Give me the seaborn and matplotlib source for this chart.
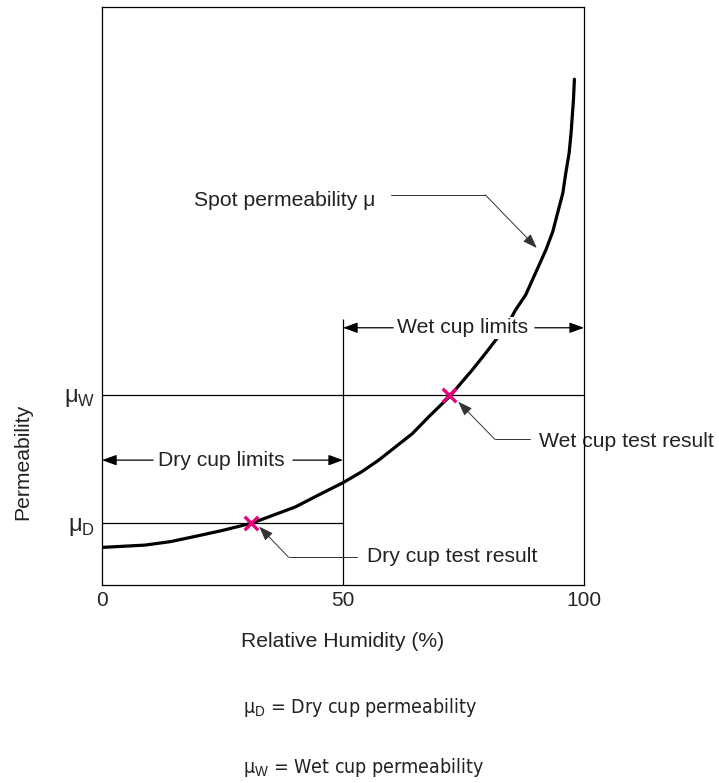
import numpy as np
import pandas as pd
import matplotlib
matplotlib.use("Agg")
import matplotlib.pyplot as plt
import seaborn as sns

# spot permeability curve (y is in arbitrary units, 0-100 axis)
rh = [0, 8.9, 14.2, 19.3, 24.8, 31.1, 40.1, 45.0, 50, 53.9, 57.4, 60.9, 64.4, 67.9, 72.1,
      76.8, 79.3, 81.7, 84.1, 85.8, 87.9, 89.3, 90.7, 92.1, 93.5, 94.5, 95.6, 96.2, 96.9,
      97.3, 97.8, 98.0]
perm = [6.5, 6.9, 7.5, 8.4, 9.4, 10.7, 13.5, 15.6, 17.7, 19.6, 21.6, 23.9, 26.2, 29.2, 32.6,
        37.2, 39.8, 42.4, 45.0, 47.6, 50.2, 52.8, 55.4, 58.0, 61.1, 64.3, 67.8, 71.2, 74.7,
        78.1, 83.9, 87.5]

# test results (RH, permeability)
test_rh = [31, 72]
test_perm = [10.7, 32.9]
mu_dry = 10.7
mu_wet = 32.9
split_rh = 50
split_top = 46.0

xticks = [0, 50, 100]
ytick_labels = ["μ$_\\mathrm{D}$", "μ$_\\mathrm{W}$"]

sns.set_style("white")
plt.rcParams["font.family"] = ["Liberation Sans", "DejaVu Sans"]
plt.rcParams["mathtext.fontset"] = "custom"
plt.rcParams["mathtext.rm"] = "Liberation Sans"

fig = plt.figure(figsize=(7.19, 7.83), dpi=100)
ax = fig.add_axes([0.1419, 0.2529, 0.6704, 0.7382])

df = pd.DataFrame({"RH": rh, "perm": perm})
sns.lineplot(data=df, x="RH", y="perm", color="black", lw=2.3, ax=ax, zorder=3, sort=False)
ax.lines[-1].set_solid_joinstyle("round")

# guide lines
ax.hlines(mu_wet, 0, 100, color="black", lw=0.9, zorder=2)
ax.hlines(mu_dry, 0, split_rh, color="black", lw=0.9, zorder=2)
ax.vlines(split_rh, 0, split_top, color="black", lw=0.9, zorder=2)

tests = pd.DataFrame({"RH": test_rh, "perm": test_perm})
sns.scatterplot(data=tests, x="RH", y="perm", marker="x", s=95, color="#e6007e",
                linewidth=2.4, ax=ax, zorder=5)

ax.set_xlim(0, 100)
ax.set_ylim(0, 100)
ax.set_xticks(xticks)
ax.set_yticks([mu_dry, mu_wet], labels=ytick_labels)
ax.tick_params(axis="x", length=0, pad=4, labelsize=15)
ax.tick_params(axis="y", length=0, pad=5, labelsize=17)
for s in ax.spines.values():
    s.set_color("black")
    s.set_linewidth(0.9)

ax.set_xlabel("Relative Humidity (%)", fontsize=15.2, color="#222")
ax.xaxis.set_label_coords(0.5, -0.081)
ax.set_ylabel("Permeability", fontsize=15.2, color="#222")
ax.yaxis.set_label_coords(-0.145, 0.213)

fs = 15.2
head = "-|>,head_length=0.55,head_width=0.2"
lim_arrow = dict(arrowstyle=head, color="black", lw=0.9, mutation_scale=16, shrinkA=0, shrinkB=0)
conn_arrow = dict(arrowstyle=head, color="#333", lw=0.7, mutation_scale=16, shrinkA=0, shrinkB=0)

# limits
ax.text(74.7, 44.5, "Wet cup limits", ha="center", va="center", fontsize=fs, color="#222",
        zorder=6, bbox=dict(facecolor="white", edgecolor="none", pad=1))
ax.annotate("", xy=(50, 44.5), xytext=(60.4, 44.5), arrowprops=lim_arrow, zorder=6)
ax.annotate("", xy=(100, 44.5), xytext=(89.8, 44.5), arrowprops=lim_arrow, zorder=6)

ax.text(24.8, 21.6, "Dry cup limits", ha="center", va="center", fontsize=fs, color="#222", zorder=6)
ax.annotate("", xy=(0, 21.6), xytext=(10.6, 21.6), arrowprops=lim_arrow, zorder=6)
ax.annotate("", xy=(50, 21.6), xytext=(39.6, 21.6), arrowprops=lim_arrow, zorder=6)

# callouts
ax.text(19.1, 66.6, "Spot permeability μ", ha="left", va="center", fontsize=fs, color="#222")
ax.plot([59.9, 79.5], [67.5, 67.5], color="#333", lw=0.7)
ax.annotate("", xy=(90.2, 58.3), xytext=(79.5, 67.5), arrowprops=conn_arrow)

ax.text(90.7, 24.8, "Wet cup test result", ha="left", va="center", fontsize=fs, color="#222",
        clip_on=False, zorder=1)
ax.plot([81.5, 88.8], [25.2, 25.2], color="#333", lw=0.7)
ax.annotate("", xy=(73.9, 31.7), xytext=(81.5, 25.2), arrowprops=conn_arrow)

ax.text(55.0, 4.9, "Dry cup test result", ha="left", va="center", fontsize=fs, color="#222")
ax.plot([38.7, 52.8], [4.8, 4.8], color="#333", lw=0.7)
ax.annotate("", xy=(32.6, 10.1), xytext=(38.7, 4.8), arrowprops=conn_arrow)

# key below the chart
narrow = ["DejaVu Sans Condensed", "DejaVu Sans"]
fig.text(0.3376, 0.0958, "μ$_\\mathrm{D}$ = Dry cup permeability", family=narrow,
         fontstretch="condensed", fontsize=14, va="center", color="#222")
fig.text(0.3376, 0.0192, "μ$_\\mathrm{W}$ = Wet cup permeability", family=narrow,
         fontstretch="condensed", fontsize=14, va="center", color="#222")

fig.savefig("out.png", dpi=100)
